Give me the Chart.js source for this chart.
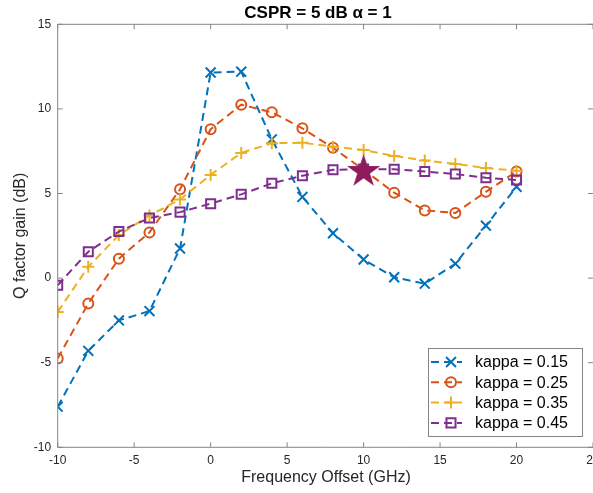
<!DOCTYPE html>
<html>
<head>
<meta charset="utf-8">
<title>CSPR = 5 dB</title>
<style>
  html, body { margin: 0; padding: 0; background: #ffffff; }
  #wrap { position: relative; width: 593px; height: 493px; overflow: hidden; }
</style>
<script src="https://cdn.jsdelivr.net/npm/chart.js@4.4.1/dist/chart.umd.min.js"></script>
</head>
<body>
<div id="wrap"><canvas id="qChart" width="593" height="493"></canvas></div>
<script>
// Datos
const freqOffset = [-10, -8, -6, -4, -2, 0, 2, 4, 6, 8, 10, 12, 14, 16, 18, 20];
const kappa015 = [-7.6, -4.3, -2.5, -1.95, 1.75, 12.15, 12.2, 8.2, 4.8, 2.65, 1.1, 0.05, -0.33, 0.85, 3.1, 5.4];
const kappa025 = [-4.75, -1.5, 1.15, 2.7, 5.25, 8.8, 10.25, 9.8, 8.85, 7.7, 6.4, 5.05, 4.0, 3.85, 5.1, 6.3];
const kappa035 = [-2.0, 0.67, 2.55, 3.7, 4.65, 6.1, 7.4, 7.97, 8.0, 7.77, 7.57, 7.22, 6.95, 6.75, 6.5, 6.35];
const kappa045 = [-0.42, 1.56, 2.75, 3.55, 3.9, 4.4, 4.95, 5.6, 6.05, 6.4, 6.45, 6.43, 6.3, 6.15, 5.93, 5.8];
const seriesLabels = ['kappa = 0.15', 'kappa = 0.25', 'kappa = 0.35', 'kappa = 0.45'];
const starPoint = { x: 10, y: 6.3 };
const xTicks = { min: -10, max: 25, step: 5 };
const yTicks = { min: -10, max: 15, step: 5 };

const FONT = '"Liberation Sans", Arial, Helvetica, sans-serif';
const colors = ['#0072BD', '#D95319', '#EDB120', '#7E2F8E'];
const markers = ['crossRot', 'circle', 'cross', 'rect'];
const markerRadius = [7, 5, 6, 6.4];

// Estrella rellena (pentagrama) como imagen para el punto
function makeStar(R, color) {
    const c = document.createElement('canvas');
    const s = Math.ceil(R * 2 + 2);
    c.width = s; c.height = s;
    const g = c.getContext('2d');
    const cx = s / 2, cy = s / 2, r = R * 0.382;
    g.beginPath();
    for (let i = 0; i < 10; i++) {
        const rad = i % 2 === 0 ? R : r;
        const a = -Math.PI / 2 + i * Math.PI / 5;
        const px = cx + rad * Math.cos(a), py = cy + rad * Math.sin(a);
        if (i === 0) g.moveTo(px, py); else g.lineTo(px, py);
    }
    g.closePath();
    g.fillStyle = color;
    g.fill();
    return c;
}

function drawMarker(ctx, style, x, y, r) {
    ctx.beginPath();
    if (style === 'crossRot') {
        const d = r * Math.SQRT1_2;
        ctx.moveTo(x - d, y - d); ctx.lineTo(x + d, y + d);
        ctx.moveTo(x - d, y + d); ctx.lineTo(x + d, y - d);
    } else if (style === 'circle') {
        ctx.arc(x, y, r, 0, Math.PI * 2);
    } else if (style === 'cross') {
        ctx.moveTo(x - r, y); ctx.lineTo(x + r, y);
        ctx.moveTo(x, y - r); ctx.lineTo(x, y + r);
    } else {
        const d = r * Math.SQRT1_2;
        ctx.rect(x - d, y - d, 2 * d, 2 * d);
    }
    ctx.stroke();
}

const allSeries = [kappa015, kappa025, kappa035, kappa045];
const datasets = allSeries.map((vals, i) => ({
    label: seriesLabels[i],
    data: freqOffset.map((f, j) => ({ x: f, y: vals[j] })),
    borderColor: colors[i],
    borderWidth: 2,
    borderDash: [8, 5],
    fill: false,
    tension: 0,
    pointStyle: markers[i],
    pointRadius: markerRadius[i],
    pointBorderColor: colors[i],
    pointBackgroundColor: 'rgba(0,0,0,0)',
    pointBorderWidth: 2,
    order: 4 - i
}));
datasets.push({
    label: '',
    data: [starPoint],
    showLine: false,
    pointStyle: makeStar(17.5, '#8E1B5B'),
    pointRadius: 17.5,
    order: 0
});

// Marco, marcas interiores, titulos y leyenda
const framePlugin = {
    id: 'frame',
    afterDraw(chart) {
        const ctx = chart.ctx;
        const a = chart.chartArea;
        const xs = chart.scales.x, ys = chart.scales.y;
        ctx.save();
        ctx.strokeStyle = '#858585';
        ctx.lineWidth = 1;
        ctx.setLineDash([]);
        ctx.beginPath();
        ctx.moveTo(a.left, a.top); ctx.lineTo(a.right, a.top);
        ctx.moveTo(a.left, a.top); ctx.lineTo(a.left, a.bottom);
        ctx.moveTo(a.left, a.bottom); ctx.lineTo(a.right, a.bottom);
        xs.ticks.forEach(t => {
            const px = xs.getPixelForValue(t.value);
            ctx.moveTo(px, a.bottom); ctx.lineTo(px, a.bottom - 5);
            ctx.moveTo(px, a.top); ctx.lineTo(px, a.top + 5);
        });
        ys.ticks.forEach(t => {
            const py = ys.getPixelForValue(t.value);
            ctx.moveTo(a.left, py); ctx.lineTo(a.left + 5, py);
            ctx.moveTo(a.right, py); ctx.lineTo(a.right - 5, py);
        });
        ctx.stroke();

        // titulo y etiquetas de ejes
        ctx.fillStyle = '#000000';
        ctx.textAlign = 'center';
        ctx.textBaseline = 'middle';
        ctx.font = 'bold 17px ' + FONT;
        ctx.fillText('CSPR = 5 dB \u03b1 = 1', 318, 13);
        ctx.fillStyle = '#262626';
        ctx.font = '16px ' + FONT;
        ctx.fillText('Frequency Offset (GHz)', 326, 478);
        ctx.save();
        ctx.translate(21, (a.top + a.bottom) / 2);
        ctx.rotate(-Math.PI / 2);
        ctx.fillText('Q factor gain (dB)', 0, 0);
        ctx.restore();

        // leyenda
        const box = { left: 428.5, top: 348.5, right: 582.5, bottom: 436.5 };
        ctx.fillStyle = '#ffffff';
        ctx.fillRect(box.left, box.top, box.right - box.left, box.bottom - box.top);
        ctx.strokeStyle = '#858585';
        ctx.lineWidth = 1;
        ctx.strokeRect(box.left, box.top, box.right - box.left, box.bottom - box.top);
        const rows = chart.data.datasets.filter(d => d.label);
        rows.forEach((d, i) => {
            const y = 362 + i * 20.3;
            ctx.strokeStyle = d.borderColor;
            ctx.lineWidth = 2;
            ctx.setLineDash([8, 5]);
            ctx.beginPath();
            ctx.moveTo(431, y); ctx.lineTo(462, y);
            ctx.stroke();
            ctx.setLineDash([]);
            drawMarker(ctx, d.pointStyle, 451, y, d.pointRadius);
            ctx.fillStyle = '#000000';
            ctx.textAlign = 'left';
            ctx.font = '16px ' + FONT;
            ctx.fillText(d.label, 475, y + 1);
        });
        ctx.restore();
    }
};

const ctx = document.getElementById('qChart').getContext('2d');
const chart = new Chart(ctx, {
    type: 'line',
    data: { datasets: datasets },
    options: {
        responsive: false,
        animation: false,
        devicePixelRatio: 1,
        layout: { autoPadding: false, padding: { top: 24.3, left: 0, right: 0, bottom: 0 } },
        plugins: {
            legend: { display: false },
            title: { display: false },
            tooltip: { enabled: false }
        },
        scales: {
            x: {
                type: 'linear',
                min: xTicks.min,
                max: xTicks.max,
                ticks: {
                    stepSize: xTicks.step,
                    padding: 6,
                    maxRotation: 0,
                    autoSkip: false,
                    color: '#262626',
                    font: { family: FONT, size: 12 }
                },
                grid: { display: false, drawTicks: false },
                border: { display: false },
                afterFit(s) {
                    s.height = 45.7;
                    s.paddingLeft = 0;
                    s.paddingRight = 0;
                }
            },
            y: {
                type: 'linear',
                min: yTicks.min,
                max: yTicks.max,
                ticks: {
                    stepSize: yTicks.step,
                    padding: 6.5,
                    color: '#262626',
                    font: { family: FONT, size: 12 }
                },
                grid: { display: false, drawTicks: false },
                border: { display: false },
                afterFit(s) {
                    s.width = 57.7;
                    s.paddingTop = 0;
                    s.paddingBottom = 0;
                }
            }
        }
    },
    plugins: [framePlugin]
});
</script>
</body>
</html>
